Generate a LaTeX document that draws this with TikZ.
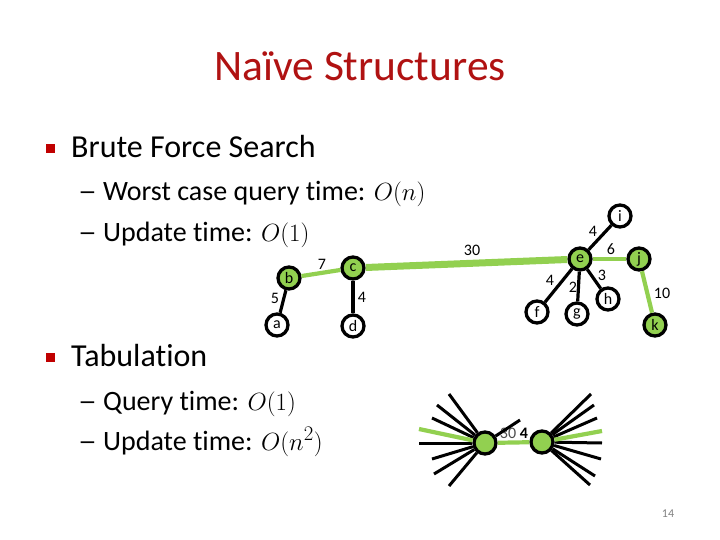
\documentclass[tikz,border=0pt]{standalone}
\usepackage{fontspec}
\setmainfont{Carlito}[Ligatures={NoCommon}]
\definecolor{lgreen}{HTML}{92D050}
\definecolor{titlered}{RGB}{176,18,18}
\definecolor{bulletred}{RGB}{192,0,0}
\definecolor{pagegray}{RGB}{130,130,130}
\begin{document}
\begin{tikzpicture}[x=1pt,y=-1pt,
  vtx/.style={circle,draw=black,line width=3.3pt,minimum size=22pt,inner sep=0pt,font=\fontsize{16}{16}\selectfont},
  gvtx/.style={vtx,fill=lgreen},
  wvtx/.style={vtx,fill=white},
  bedge/.style={draw=black,line width=3.2pt},
  gthin/.style={draw=lgreen,line width=4.2pt},
  gthick/.style={draw=lgreen,line width=7pt},
  spoke/.style={draw=black,line width=3pt},
  gspoke/.style={draw=lgreen,line width=4.2pt},
  elab/.style={font=\fontsize{16}{16}\selectfont,inner sep=0pt},
  big/.style={font=\fontsize{32}{38}\selectfont,anchor=base west,inner sep=0pt},
  mid/.style={font=\fontsize{28}{34}\selectfont,anchor=base west,inner sep=0pt},
  sq/.style={fill=bulletred,minimum size=9pt,inner sep=0pt}
]
\useasboundingbox (0,0) rectangle (720,540);
\fill[white] (0,0) rectangle (720,540);

% title
\node[font=\fontsize{43.5}{48}\selectfont,text=titlered,anchor=base,inner sep=0pt] (title) at (360,81) {Naïve Structures};

% bullets
\node[sq] (sq1) at (50,149) {};
\node[big] (t1) at (71,158) {Brute Force Search};
\node[mid] (d1) at (78,201) {\scalebox{1.35}[1]{–}};
\node[mid] (t2) at (103,201) {Worst case query time: $O(n)$};
\node[mid] (d2) at (78,241) {\scalebox{1.35}[1]{–}};
\node[mid] (t3) at (103,241) {Update time: $O(1)$};
\node[sq] (sq2) at (50,357) {};
\node[big] (t4) at (71,366) {Tabulation};
\node[mid] (d3) at (78,410) {\scalebox{1.35}[1]{–}};
\node[mid] (t5) at (103,410) {Query time: $O(1)$};
\node[mid] (d4) at (78,450) {\scalebox{1.35}[1]{–}};
\node[mid] (t6) at (103,450) {Update time: $O(n^2)$};

% graph nodes
\node[gvtx] (b) at (289,278) {b};
\node[gvtx] (c) at (353,268) {c};
\node[wvtx] (a) at (277,325) {a};
\node[wvtx] (d) at (353,326) {d};
\node[gvtx] (e) at (580,259) {e};
\node[wvtx] (f) at (537,312) {f};
\node[wvtx] (g) at (577,314) {g};
\node[wvtx] (h) at (608,299) {h};
\node[wvtx] (i) at (620,216) {i};
\node[gvtx] (j) at (639,259) {j};
\node[gvtx] (k) at (655,325) {k};

% edges
\draw[gthin] (b) -- (c);
\draw[gthick] (c) -- (e);
\draw[bedge] (b) -- (a);
\draw[bedge] (c) -- (d);
\draw[bedge] (e) -- (i);
\draw[gthin] (e) -- (j);
\draw[bedge] (e) -- (f);
\draw[bedge] (e) -- (g);
\draw[bedge] (e) -- (h);
\draw[gthin] (j) -- (k);

% edge labels
\node[elab] (l7) at (322,264) {7};
\node[elab] (l5) at (275,298) {5};
\node[elab] (l4cd) at (362,297) {4};
\node[elab] (l30) at (472,250) {30};
\node[elab] (l4ei) at (593,231) {4};
\node[elab] (l6) at (611,249) {6};
\node[elab] (l4ef) at (550,280) {4};
\node[elab] (l2) at (573,287) {2};
\node[elab] (l3) at (602,275) {3};
\node[elab] (l10) at (662,293) {10};

% bottom: two hubs with spokes
\coordinate (p1) at (449,394);
\coordinate (p2) at (437,405);
\coordinate (p3) at (432,418);
\coordinate (pg) at (419,429);
\coordinate (p4) at (419,443);
\coordinate (p5) at (432,459);
\coordinate (p6) at (434,474);
\coordinate (p7) at (449,486);
\coordinate (q1) at (591,394);
\coordinate (q2) at (594,405);
\coordinate (q3) at (597,418);
\coordinate (qg) at (602,431);
\coordinate (q4) at (602,443);
\coordinate (q5) at (601,459);
\coordinate (q6) at (595,476);
\coordinate (q7) at (590,485);
\coordinate (m1) at (520,420);
\node[gvtx] (L) at (485,443) {};
\node[gvtx] (R) at (542,442) {};
\foreach \p in {p1,p2,p3,p4,p5,p6,p7} \draw[spoke] (L) -- (\p);
\draw[gspoke] (L) -- (pg);
\foreach \q in {q1,q2,q3,q4,q5,q6,q7} \draw[spoke] (R) -- (\q);
\draw[gspoke] (R) -- (qg);
\draw[gspoke] (L) -- (R);
\node[elab,text=black!70] (b30) at (508,433) {30};
\draw[spoke] (L) -- (m1);
\node[elab,font=\fontsize{16}{16}\bfseries] (b4) at (524,433) {4};

% page number
\node[font=\fontsize{12}{12}\selectfont,text=pagegray,inner sep=0pt] (pn) at (668,514) {14};
\end{tikzpicture}
\end{document}
